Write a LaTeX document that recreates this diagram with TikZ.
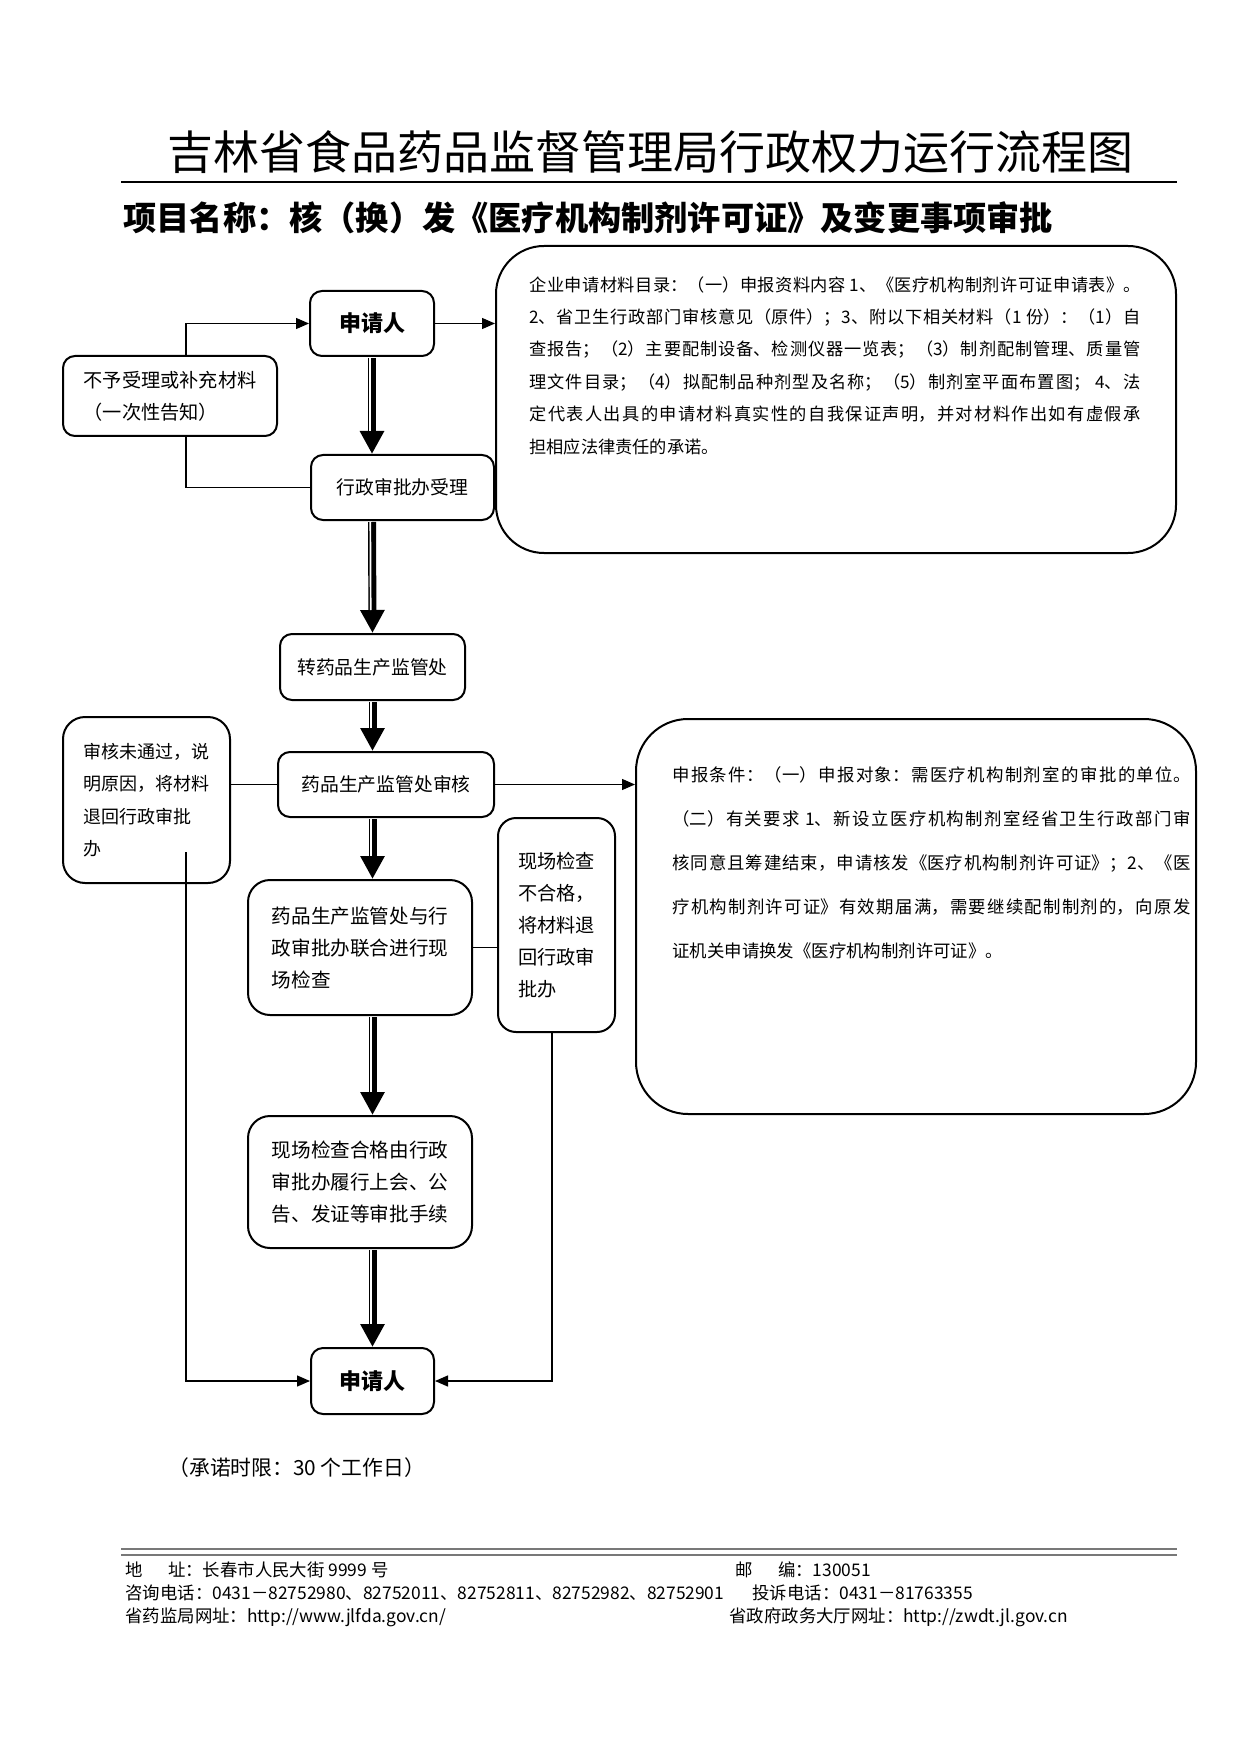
\documentclass[tikz,border=0pt]{standalone}
\usepackage{fontspec}
\setmainfont{Noto Sans CJK SC}
\usepackage{xcolor}
\usetikzlibrary{arrows.meta,calc,positioning}
\definecolor{rulegray}{RGB}{120,120,120}
\XeTeXlinebreaklocale "zh"
\XeTeXlinebreakskip=0pt plus 1pt

\begin{document}
\begin{tikzpicture}[
    x=0.5pt, y=-0.5pt,
    box/.style={draw, line width=1pt, rounded corners=6pt, align=center, inner sep=0pt, font=\fontsize{9.4}{16}\selectfont},
    roundbox/.style={box, rounded corners=11pt, align=left},
    bigbox/.style={draw, line width=1pt, rounded corners=24pt, inner sep=0pt},
    plain/.style={inner sep=0pt, anchor=west},
    link/.style={line width=0.65pt},
    arrowlink/.style={link, -{Triangle[length=6.5pt, width=5.5pt]}},
    mainflow/.style={line width=4pt, shorten <=0.5pt, -{Triangle[length=11.5pt, width=11.5pt]},
        postaction={draw=white, line width=0.85pt, -, shorten >=11.5pt, transform canvas={xshift=-0.85pt}}}
]

% Page
\fill[white] (0,0) rectangle (1240,1754);
\useasboundingbox (0,0) rectangle (1240,1754);

% Title & Header
\node[font=\fontsize{23}{28}\selectfont] (title) at (650,152) {吉林省食品药品监督管理局行政权力运行流程图};
\draw[line width=1pt] (121,182) -- (1177,182);
\node[plain, font=\bfseries\fontsize{16.6}{20}\selectfont] (subject) at (123,218) {项目名称：核（换）发《医疗机构制剂许可证》及变更事项审批};

% 1. ACCEPTANCE
\node[box, font=\bfseries\fontsize{11}{13}\selectfont, minimum width=62pt, minimum height=32.5pt] (app1) at (372,323.5) {申请人};
\node[box, align=left, font=\fontsize{9.6}{16}\selectfont, minimum width=107pt, minimum height=40pt] (nogo) at (170,396) {不予受理或补充材料\\（一次性告知）};
\node[box, minimum width=91.5pt, minimum height=32.5pt] (accept) at (402.5,487.5) {行政审批办受理};

% Materials list
\node[bigbox, minimum width=340pt, minimum height=153.5pt] (list) at (836,399.5) {};
\node[anchor=north west, inner sep=0pt, text width=305.5pt, align=justify, font=\fontsize{8.6}{16.2}\selectfont] (listtext) at (529,276) {%
    企业申请材料目录：（一）申报资料内容 1、《医疗机构制剂许可证申请表》。\linebreak
    2、省卫生行政部门审核意见（原件）；3、附以下相关材料（1 份）：（1）自\linebreak
    查报告；（2）主要配制设备、检测仪器一览表；（3）制剂配制管理、质量管\linebreak
    理文件目录；（4）拟配制品种剂型及名称；（5）制剂室平面布置图； 4、法\linebreak
    定代表人出具的申请材料真实性的自我保证声明，并对材料作出如有虚假承\linebreak
    担相应法律责任的承诺。};

% 2. REVIEW
\node[box, minimum width=92.5pt, minimum height=33pt] (transfer) at (372.5,667) {转药品生产监管处};
\node[box, minimum width=108pt, minimum height=32.5pt] (review) at (386,784.5) {药品生产监管处审核};
\node[roundbox, font=\fontsize{9}{16.2}\selectfont, minimum width=83.5pt, minimum height=83pt] (fail1) at (146.5,800) {审核未通过，说\\明原因，将材料\\退回行政审批\\办};

% Conditions
\node[bigbox, rounded corners=26pt, minimum width=280pt, minimum height=197.5pt] (cond) at (916,916.5) {};
\node[anchor=north west, inner sep=0pt, text width=259pt, align=justify, font=\fontsize{8.7}{22}\selectfont] (condtext) at (672,766) {%
    申报条件：（一）申报对象：需医疗机构制剂室的审批的单位。\linebreak
    （二）有关要求 1、新设立医疗机构制剂室经省卫生行政部门审\linebreak
    核同意且筹建结束，申请核发《医疗机构制剂许可证》；2、《医\linebreak
    疗机构制剂许可证》有效期届满，需要继续配制制剂的，向原发\linebreak
    证机关申请换发《医疗机构制剂许可证》。};

% 3. INSPECTION
\node[roundbox, font=\fontsize{9.8}{16}\selectfont, minimum width=112pt, minimum height=67.5pt] (joint) at (360,947.5) {药品生产监管处与行\\政审批办联合进行现\\场检查};
\node[roundbox, rounded corners=9pt, font=\fontsize{9.6}{16}\selectfont, minimum width=58.5pt, minimum height=107pt] (fail2) at (556.5,925) {现场检查\\不合格，\\将材料退\\回行政审\\批办};
\node[roundbox, font=\fontsize{9.8}{16}\selectfont, minimum width=112pt, minimum height=66pt] (pass) at (360,1182) {现场检查合格由行政\\审批办履行上会、公\\告、发证等审批手续};
\node[box, font=\bfseries\fontsize{11}{13}\selectfont, minimum width=61.5pt, minimum height=33pt] (app2) at (372.5,1381) {申请人};

% Main flow
\draw[mainflow] (app1.south) -- (app1.south |- accept.north);
\draw[mainflow] (app1.south |- accept.south) -- (transfer.north);
\draw[mainflow] (transfer.south) -- (transfer.south |- review.north);
\draw[mainflow] (transfer.south |- review.south) -- (transfer.south |- joint.north);
\draw[mainflow] (transfer.south |- joint.south) -- (transfer.south |- pass.north);
\draw[mainflow] (transfer.south |- pass.south) -- (app2.north);

% Side links
\draw[arrowlink] ([xshift=8pt]nogo.north) |- (app1.west);
\draw[link] (accept.west) -| ([xshift=8pt]nogo.south);
\draw[arrowlink] (app1.east) -- (app1.east -| list.west);
\draw[arrowlink] (review.east) -- (review.east -| cond.west);
\draw[link] (review.west) -- (review.west -| fail1.east);
\draw[arrowlink] ([xshift=19.75pt, yshift=16pt]fail1.south) |- (app2.west);
\draw[link] (joint.east) -- (joint.east -| fail2.west);
\draw[arrowlink] ([xshift=-2.25pt]fail2.south) |- (app2.east);

% Time limit
\node[plain, font=\fontsize{10.4}{12}\selectfont] (deadline) at (168,1468) {（承诺时限：30 个工作日）};

% Footer
\draw[rulegray, line width=0.6pt] (121,1549) -- (1177,1549);
\draw[rulegray, line width=0.6pt] (121,1555) -- (1177,1555);
\node[plain, font=\fontsize{8.7}{10}\selectfont] (addr) at (125,1570) {地\hspace{1.45em}址：长春市人民大街 9999 号};
\node[plain, font=\fontsize{8.7}{10}\selectfont] (zip) at (735,1570) {邮\hspace{1.45em}编：130051};
\node[plain, font=\fontsize{8.7}{10}\selectfont] (tel) at (125,1593) {咨询电话：0431－82752980、82752011、82752811、82752982、82752901};
\node[plain, font=\fontsize{8.7}{10}\selectfont] (complain) at (752,1593) {投诉电话：0431－81763355};
\node[plain, font=\fontsize{8.7}{10}\selectfont] (web1) at (125,1617) {省药监局网址：http://www.jlfda.gov.cn/};
\node[plain, font=\fontsize{8.7}{10}\selectfont] (web2) at (729,1617) {省政府政务大厅网址：http://zwdt.jl.gov.cn};

\end{tikzpicture}
\end{document}
